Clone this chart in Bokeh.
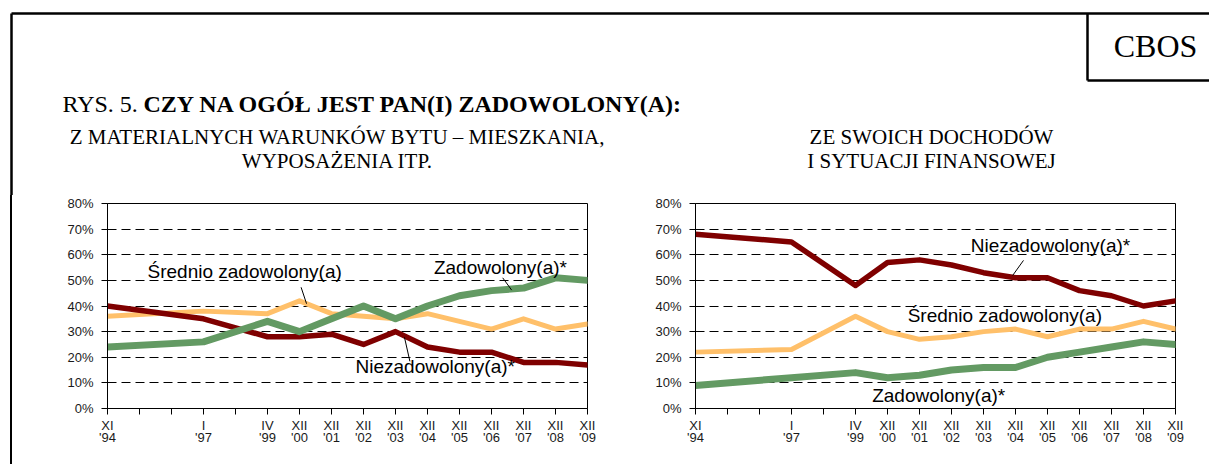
from bokeh.plotting import figure
from bokeh.layouts import column, row
from bokeh.models import Range1d, FixedTicker, PrintfTickFormatter, Spacer, Div
from bokeh.embed import file_html
from bokeh.resources import INLINE
from bokeh.core.properties import value

# ---------------- data ----------------
periods = ["XI\n'94", "", "", "I\n'97", "", "IV\n'99", "XII\n'00", "XII\n'01",
           "XII\n'02", "XII\n'03", "XII\n'04", "XII\n'05", "XII\n'06",
           "XII\n'07", "XII\n'08", "XII\n'09"]
x_pos = [i for i, s in enumerate(periods) if s]

left_zadowolony = [24, 26, 34, 30, 35, 40, 35, 40, 44, 46, 47, 51, 50]
left_srednio = [36, 38, 37, 42, 37, 36, 35, 37, 34, 31, 35, 31, 33]
left_niezadowolony = [40, 35, 28, 28, 29, 25, 30, 24, 22, 22, 18, 18, 17]

right_niezadowolony = [68, 65, 48, 57, 58, 56, 53, 51, 51, 46, 44, 40, 42]
right_srednio = [22, 23, 36, 30, 27, 28, 30, 31, 28, 31, 31, 34, 31]
right_zadowolony = [9, 12, 14, 12, 13, 15, 16, 16, 20, 22, 24, 26, 25]

y_ticks = [0, 10, 20, 30, 40, 50, 60, 70, 80]

title_plain = "RYS. 5."
title_bold = "CZY NA OGÓŁ JEST PAN(I) ZADOWOLONY(A):"
left_subtitle = ["Z MATERIALNYCH WARUNKÓW BYTU – MIESZKANIA,", "WYPOSAŻENIA ITP."]
right_subtitle = ["ZE SWOICH DOCHODÓW", "I SYTUACJI FINANSOWEJ"]

# label placements (x index, y %)
left_labels = dict(text=["Średnio zadowolony(a)", "Zadowolony(a)*", "Niezadowolony(a)*"],
                   x=[1.25, 10.2, 7.75], y=[53.5, 55.2, 16.2])
left_leaders = dict(x0=[6.05, 12.35, 9.28], y0=[47.3, 51.0, 27.8],
                    x1=[6.22, 12.63, 9.45], y1=[40.9, 46.2, 18.4])
right_labels = dict(text=["Niezadowolony(a)*", "Średnio zadowolony(a)", "Zadowolony(a)*"],
                    x=[8.6, 6.63, 5.52], y=[63.6, 36.3, 5.1])
right_leaders = dict(x0=[10.25], y0=[57.8], x1=[9.91], y1=[51.9])

GREEN = "#639a63"
ORANGE = "#ffc06a"
RED = "#7f0000"

SANS = "Liberation Sans"
SERIF = "Liberation Serif"

TOTAL_W = 1209
HEADER_H = 195
BL, BR, BT, BB = 50, 15, 8, 56
FW, FH = 480, 205
ROW_H = BT + FH + BB


def make_chart(series, labels, leaders):
    p = figure(width=BL + FW + BR, height=ROW_H,
               x_range=Range1d(0, len(periods) - 1), y_range=Range1d(0, 80),
               output_backend="svg", toolbar_location=None,
               min_border_left=BL, min_border_right=BR,
               min_border_top=BT, min_border_bottom=BB)
    p.outline_line_color = "black"
    p.outline_line_width = 1
    p.background_fill_color = "white"
    p.border_fill_color = "white"

    p.xgrid.visible = False
    p.ygrid.ticker = FixedTicker(ticks=y_ticks[1:-1])
    p.ygrid.grid_line_color = "black"
    p.ygrid.grid_line_dash = "9 5"
    p.ygrid.grid_line_width = 1

    p.xaxis.ticker = FixedTicker(ticks=list(range(len(periods))))
    p.xaxis.major_label_overrides = {i: s for i, s in enumerate(periods)}
    p.yaxis.ticker = FixedTicker(ticks=y_ticks)
    p.yaxis.formatter = PrintfTickFormatter(format="%d%%")
    for ax in (p.xaxis, p.yaxis):
        ax.axis_line_color = "black"
        ax.axis_line_width = 1
        ax.major_tick_line_color = "black"
        ax.major_tick_line_width = 1
        ax.major_tick_in = 0
        ax.major_tick_out = 6
        ax.minor_tick_line_color = None
        ax.major_label_text_font = SANS
        ax.major_label_text_font_size = "13px"
        ax.major_label_text_color = "#1a1a1a"
    p.xaxis.major_label_text_line_height = 0.85
    p.yaxis.major_label_standoff = 8
    p.xaxis.major_label_standoff = 3

    for ys, color, width in series:
        p.line(x_pos, ys, line_color=color, line_width=width,
               line_join="round", line_cap="round")

    p.segment(x0=leaders["x0"], y0=leaders["y0"], x1=leaders["x1"], y1=leaders["y1"],
              line_color="black", line_width=1)
    p.text(x=labels["x"], y=labels["y"], text=labels["text"],
           text_font=value(SANS), text_font_size=value("19px"),
           text_align="left", text_baseline="middle", text_color="black")
    return p


def pixel_figure(w, h):
    p = figure(width=w, height=h, x_range=Range1d(0, w), y_range=Range1d(h, 0),
               output_backend="svg", toolbar_location=None, min_border=0,
               x_axis_location=None, y_axis_location=None)
    p.grid.visible = False
    p.outline_line_color = None
    p.background_fill_color = "white"
    p.border_fill_color = "white"
    return p


# ---------------- header (page pixel coordinates) ----------------
hdr = pixel_figure(TOTAL_W, HEADER_H)
hdr.segment(x0=[11, 11, 1087, 1087], y0=[13, 13, 13, 80],
            x1=[TOTAL_W, 11, 1087, TOTAL_W], y1=[13, HEADER_H, 80, 80],
            line_color="black", line_width=2.5)
hdr.text(x=[1155], y=[45], text=["CBOS"], text_font=value(SERIF),
         text_font_size=value("32px"), text_align="center", text_baseline="middle",
         text_color="black")
hdr.text(x=[62], y=[103], text=[title_plain], text_font=value(SERIF),
         text_font_size=value("24px"), text_align="left", text_baseline="middle",
         text_color="black")
hdr.text(x=[143], y=[103], text=[title_bold], text_font=value(SERIF),
         text_font_size=value("24px"), text_font_style="bold", text_align="left",
         text_baseline="middle", text_color="black")
hdr.text(x=[337, 337], y=[136, 160], text=left_subtitle, text_font=value(SERIF),
         text_font_size=value("21px"), text_align="center", text_baseline="middle",
         text_color="black")
hdr.text(x=[931, 931], y=[136, 160], text=right_subtitle, text_font=value(SERIF),
         text_font_size=value("21px"), text_align="center", text_baseline="middle",
         text_color="black")

# ---------------- charts ----------------
left_chart = make_chart([(left_srednio, ORANGE, 5), (left_niezadowolony, RED, 5.5),
                         (left_zadowolony, GREEN, 7)], left_labels, left_leaders)
right_chart = make_chart([(right_niezadowolony, RED, 5.5), (right_srednio, ORANGE, 5),
                          (right_zadowolony, GREEN, 7)], right_labels, right_leaders)

# left page border continued below the header (a plain block, not a plot)
spacer_l = Div(text="", width=57, height=ROW_H,
               styles={"background": "linear-gradient(to right, #ffffff 0px, #ffffff 9.75px, "
                                     "#000000 9.75px, #000000 12.25px, #ffffff 12.25px)",
                       "margin": "0", "padding": "0"})

layout = column(hdr, row(spacer_l, left_chart, Spacer(width=43, height=ROW_H),
                         right_chart, Spacer(width=19, height=ROW_H)))

open("out.html", "w").write(file_html(layout, INLINE))
